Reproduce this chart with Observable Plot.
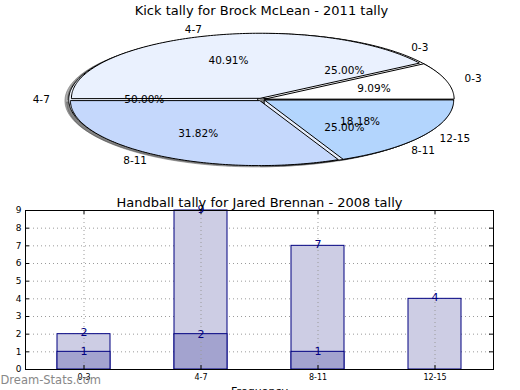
<!DOCTYPE html>
<html>
<head>
<meta charset="utf-8">
<script src="https://cdn.jsdelivr.net/npm/d3@7"></script>
<script src="https://cdn.jsdelivr.net/npm/@observablehq/plot@0.6"></script>
<style>
  body { margin: 0; background: #fff; }
  #wrap { position: relative; width: 520px; height: 390px; overflow: hidden; background: #fff; }
  #pie, #bar { position: absolute; left: 0; }
  #pie { top: 0; }
  #bar { top: 190px; }
</style>
</head>
<body>
<div id="wrap"><div id="pie"></div><div id="bar"></div></div>
<script>
// ---------- data ----------
const pieTitle = "Kick tally for Brock McLean - 2011 tally";
const barTitle = "Handball tally for Jared Brennan - 2008 tally";
const cats = ["0-3", "4-7", "8-11", "12-15"];
const kickTotal = [2, 9, 7, 4];          // 9.09%, 40.91%, 31.82%, 18.18%
const kickSubCats = ["0-3", "4-7", "8-11"];
const kickSub = [1, 2, 1];               // 25%, 50%, 25%
const handTotal = [2, 9, 7, 4];
const handSub = [1, 2, 1, 0];
const yTicks = [0, 1, 2, 3, 4, 5, 6, 7, 8, 9];
const xLabel = "Frequency";
const watermark = "Dream-Stats.com";

// ---------- styles ----------
const pieColorsA = ["#ffffff", "#eaf1fe", "#c5d8fc", "#b3d5fd"];
const pieColorsB = ["#ffffff", "#eef3fd", "#e6eefc"];
const FONT = "DejaVu Sans";

// ---------- pie geometry from values ----------
function pieWedges(labels, values, explode) {
  const total = d3.sum(values);
  let a = 0;
  return values.map((v, i) => {
    const a0 = a, a1 = a + 360 * v / total;
    a = a1;
    const mid = (a0 + a1) / 2 * Math.PI / 180;
    const ox = explode * Math.cos(mid), oy = explode * Math.sin(mid);
    const pts = [{x: ox, y: oy}];
    const n = Math.max(2, Math.ceil(a1 - a0));
    for (let k = 0; k <= n; k++) {
      const t = (a0 + (a1 - a0) * k / n) * Math.PI / 180;
      pts.push({x: ox + Math.cos(t), y: oy + Math.sin(t)});
    }
    const lx = ox + 1.1 * Math.cos(mid), ly = oy + 1.1 * Math.sin(mid);
    return {
      label: labels[i], pts,
      lx, ly,
      px: ox + 0.6 * Math.cos(mid), py: oy + 0.6 * Math.sin(mid),
      pct: (100 * v / total).toFixed(2) + "%",
      left: lx > 0
    };
  });
}
const A = pieWedges(cats, kickTotal, 0.02);
const B = pieWedges(kickSubCats, kickSub, 0.02);

const pieMarks = [];
// shadows
for (const w of [...B, ...A]) {
  pieMarks.push(Plot.line(w.pts.map(p => ({x: p.x - 0.02, y: p.y - 0.02})), {
    x: "x", y: "y", curve: "linear-closed", fill: "#4d4d4d", fillOpacity: 0.45,
    stroke: "#4d4d4d", strokeOpacity: 0.45, strokeWidth: 1
  }));
}
B.forEach((w, i) => pieMarks.push(Plot.line(w.pts, {
  x: "x", y: "y", curve: "linear-closed", fill: pieColorsB[i], stroke: "#000", strokeWidth: 1
})));
A.forEach((w, i) => pieMarks.push(Plot.line(w.pts, {
  x: "x", y: "y", curve: "linear-closed", fill: pieColorsA[i], stroke: "#000", strokeWidth: 1
})));
const allW = [...A, ...B];
pieMarks.push(
  Plot.text(allW.filter(w => w.left), {x: "lx", y: "ly", text: "label", textAnchor: "start", lineAnchor: "middle", fontSize: 10.5, fill: "#000"}),
  Plot.text(allW.filter(w => !w.left), {x: "lx", y: "ly", text: "label", textAnchor: "end", lineAnchor: "middle", fontSize: 10.5, fill: "#000"}),
  Plot.text(allW, {x: "px", y: "py", text: "pct", textAnchor: "middle", lineAnchor: "middle", fontSize: 10.5, fill: "#000"}),
  Plot.text([pieTitle], {frameAnchor: "top", dy: -24, lineAnchor: "middle", fontSize: 13, fill: "#000"})
);

const pie = Plot.plot({
  width: 520, height: 190,
  marginLeft: 72, marginRight: 70, marginTop: 34, marginBottom: 26,
  x: {domain: [-1, 1], axis: null},
  y: {domain: [-1, 1], axis: null},
  style: {fontFamily: FONT, background: "transparent", overflow: "visible"},
  marks: pieMarks
});
document.getElementById("pie").append(pie);

// ---------- bar chart ----------
const totals = cats.map((c, i) => ({cat: c, v: handTotal[i]}));
const subs = cats.map((c, i) => ({cat: c, v: handSub[i]})).filter(d => d.v > 0);
const navy = "#000080";

const bar = Plot.plot({
  width: 520, height: 200,
  marginLeft: 25, marginRight: 27, marginTop: 20, marginBottom: 21,
  x: {domain: cats, type: "band", paddingInner: 0.55, paddingOuter: 0.275},
  y: {domain: [0, 9]},
  style: {fontFamily: FONT, background: "transparent", overflow: "visible"},
  marks: [
    Plot.ruleY(yTicks.slice(1, -1), {y: d => d, stroke: "#9a9a9a", strokeDasharray: "1,3", strokeWidth: 1}),
    Plot.barY(totals, {x: "cat", y: "v", fill: "#cdcde4", stroke: navy, strokeWidth: 1}),
    Plot.barY(subs, {x: "cat", y: "v", fill: "#a3a3cf", stroke: navy, strokeWidth: 1}),
    Plot.ruleX(cats, {x: d => d, stroke: "#9a9a9a", strokeDasharray: "1,3", strokeWidth: 1}),
    Plot.ruleY(yTicks, {y: d => d, insetRight: 464, stroke: "#000"}),
    Plot.ruleY(yTicks, {y: d => d, insetLeft: 464, stroke: "#000"}),
    Plot.ruleX(cats, {x: d => d, insetTop: 155, stroke: "#000"}),
    Plot.ruleX(cats, {x: d => d, insetBottom: 155, stroke: "#000"}),
    Plot.frame({stroke: "#000", strokeWidth: 1}),
    Plot.axisY({ticks: yTicks, tickSize: 0, tickPadding: 4, fontSize: 9, tickFormat: d => String(d), label: null}),
    Plot.axisX({tickSize: 0, tickPadding: 5, fontSize: 8, label: null}),
    Plot.text(totals, {x: "cat", y: "v", text: d => String(d.v), lineAnchor: "bottom", dy: 2, fontSize: 11, fill: navy}),
    Plot.text(subs, {x: "cat", y: "v", text: d => String(d.v), lineAnchor: "middle", fontSize: 11, fill: navy}),
    Plot.text([barTitle], {frameAnchor: "top", dy: -8, lineAnchor: "middle", fontSize: 13, fill: "#000"}),
    Plot.text([xLabel], {frameAnchor: "bottom", dy: 22, lineAnchor: "middle", fontSize: 11, fill: "#000"}),
    Plot.text([watermark], {frameAnchor: "bottom-left", dx: -25, dy: 11, textAnchor: "start", lineAnchor: "middle", fontSize: 11.5, fill: "#888"})
  ]
});
document.getElementById("bar").append(bar);
</script>
</body>
</html>
